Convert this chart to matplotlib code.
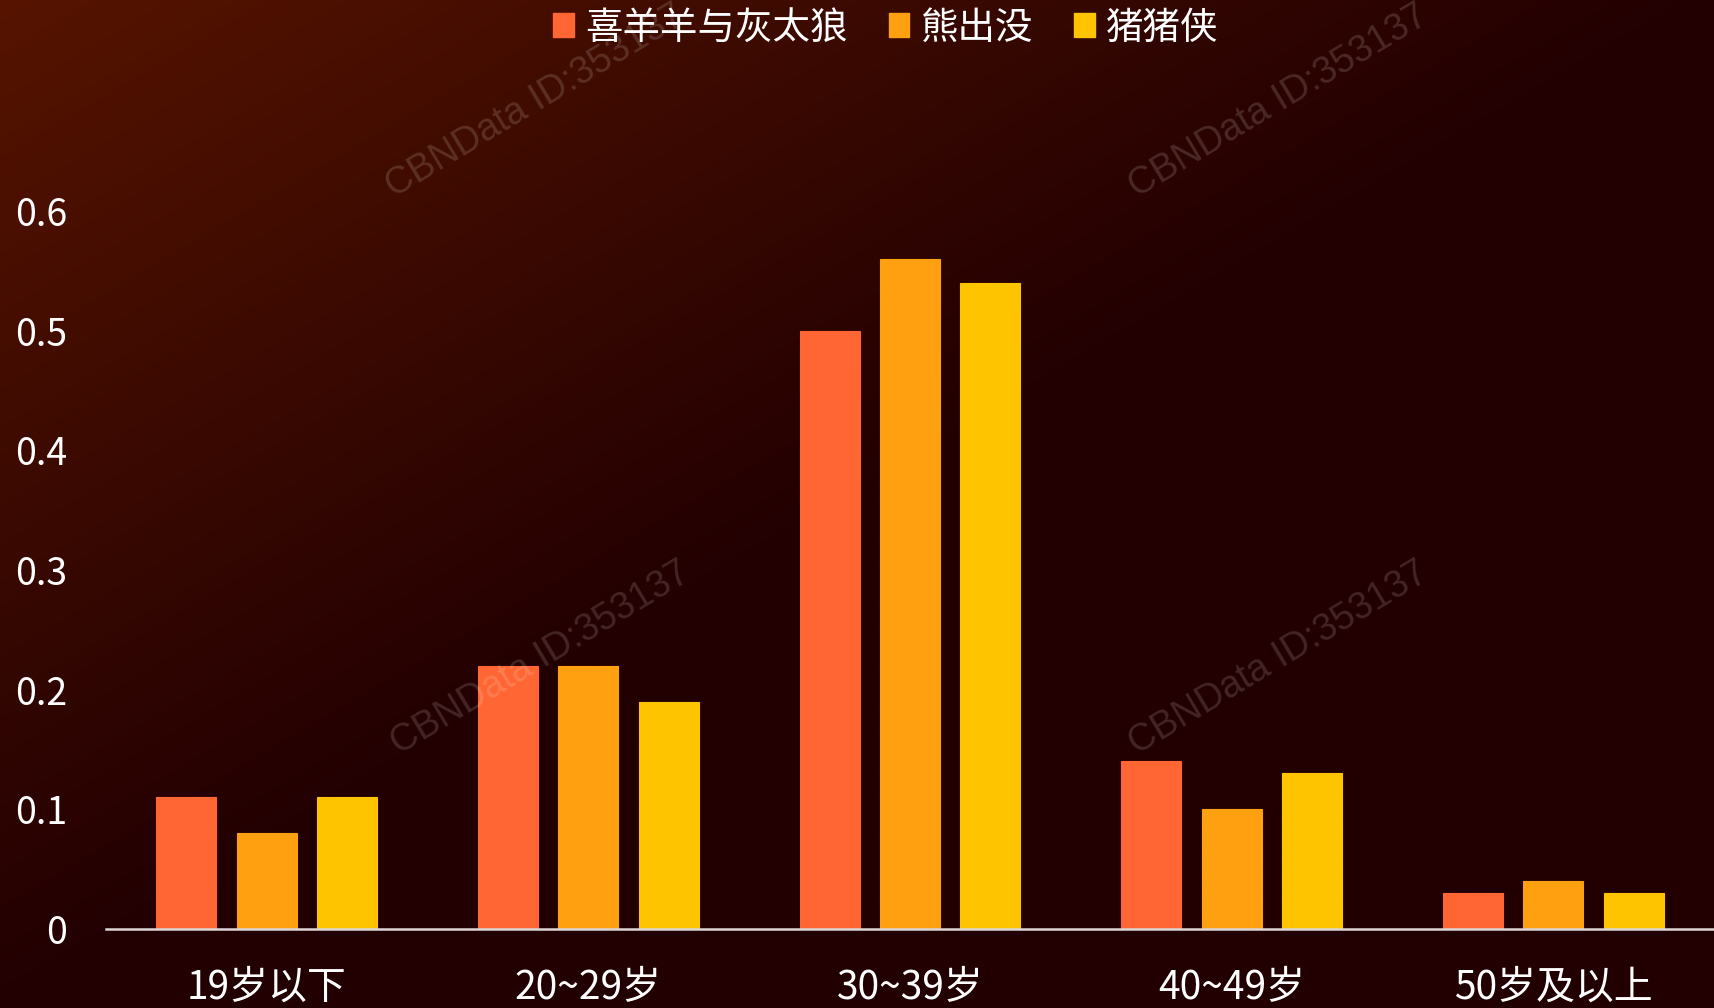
import numpy as np
import matplotlib
matplotlib.use("Agg")
import matplotlib.pyplot as plt
from matplotlib.patches import Patch

plt.rcParams['font.family'] = ['Noto Sans CJK SC', 'DejaVu Sans']

categories = ["19岁以下", "20~29岁", "30~39岁", "40~49岁", "50岁及以上"]
series_names = ["喜羊羊与灰太狼", "熊出没", "猪猪侠"]
xiyangyang = [0.11, 0.22, 0.50, 0.14, 0.03]
xiongchumei = [0.08, 0.22, 0.56, 0.10, 0.04]
zhuzhuxia = [0.11, 0.19, 0.54, 0.13, 0.03]
yticks = [0, 0.1, 0.2, 0.3, 0.4, 0.5, 0.6]
ytick_labels = ["0", "0.1", "0.2", "0.3", "0.4", "0.5", "0.6"]

colors = ["#FF6633", "#FFA011", "#FFC400"]
W, H = 1714, 1008
fig = plt.figure(figsize=(W / 100, H / 100), dpi=100)

# background gradient
bg = fig.add_axes([0, 0, 1, 1], zorder=-10)
xx, yy = np.meshgrid(np.linspace(0, 1, 400), np.linspace(0, 1, 240))
t = np.clip(xx + yy, 0, 1)
c0 = np.array([0x56, 0x14, 0x00]) / 255
c1 = np.array([0x22, 0x00, 0x02]) / 255
img = c0[None, None, :] * (1 - t[..., None]) + c1[None, None, :] * t[..., None]
bg.imshow(img, aspect='auto', extent=[0, 1, 1, 0], interpolation='bilinear')
bg.set_xlim(0, 1)
bg.set_ylim(1, 0)
bg.axis('off')

ax = fig.add_axes([106 / W, (H - 929) / H, 1 - 106 / W, (929 - 211) / H])
ax.patch.set_alpha(0)

x = np.arange(len(categories))
offsets = [-0.25, 0, 0.25]
width = 0.187
for data, off, col, name in zip([xiyangyang, xiongchumei, zhuzhuxia], offsets, colors, series_names):
    ax.bar(x + off, data, width=width, color=col, edgecolor=col, linewidth=0.8, label=name, zorder=2)

ax.set_xlim(-0.5, 4.5)
ax.set_ylim(0, 0.6)
ax.set_yticks(yticks)
ax.set_yticklabels(ytick_labels)
ax.set_xticks(x)
ax.set_xticklabels(categories)
for s in ['top', 'right', 'left']:
    ax.spines[s].set_visible(False)
ax.spines['bottom'].set_color('#dcd6d6')
ax.spines['bottom'].set_linewidth(1.8)
ax.spines['bottom'].set_zorder(3)
ax.tick_params(axis='y', length=0, pad=28, labelsize=27, labelcolor='white')
ax.tick_params(axis='x', length=0, pad=28, labelsize=28, labelcolor='white')

# watermarks
for (wx, wy) in [(535, 101), (1278, 101), (540, 658), (1278, 658)]:
    fig.text(wx / W, 1 - wy / H, "CBNData ID:353137", family=['Liberation Sans', 'DejaVu Sans'],
             fontsize=27, color='white', alpha=0.15, rotation=31,
             ha='center', va='center', zorder=5)

handles = [Patch(facecolor=c, edgecolor=c) for c in colors]
leg = fig.legend(handles, series_names, loc='center', bbox_to_anchor=(886 / W, 1 - 28 / H),
                 ncol=3, frameon=False, fontsize=27, labelcolor='white',
                 handlelength=0.55, handleheight=0.62, handletextpad=0.3,
                 columnspacing=1.1, borderaxespad=0)

fig.savefig("out.png", dpi=100)
